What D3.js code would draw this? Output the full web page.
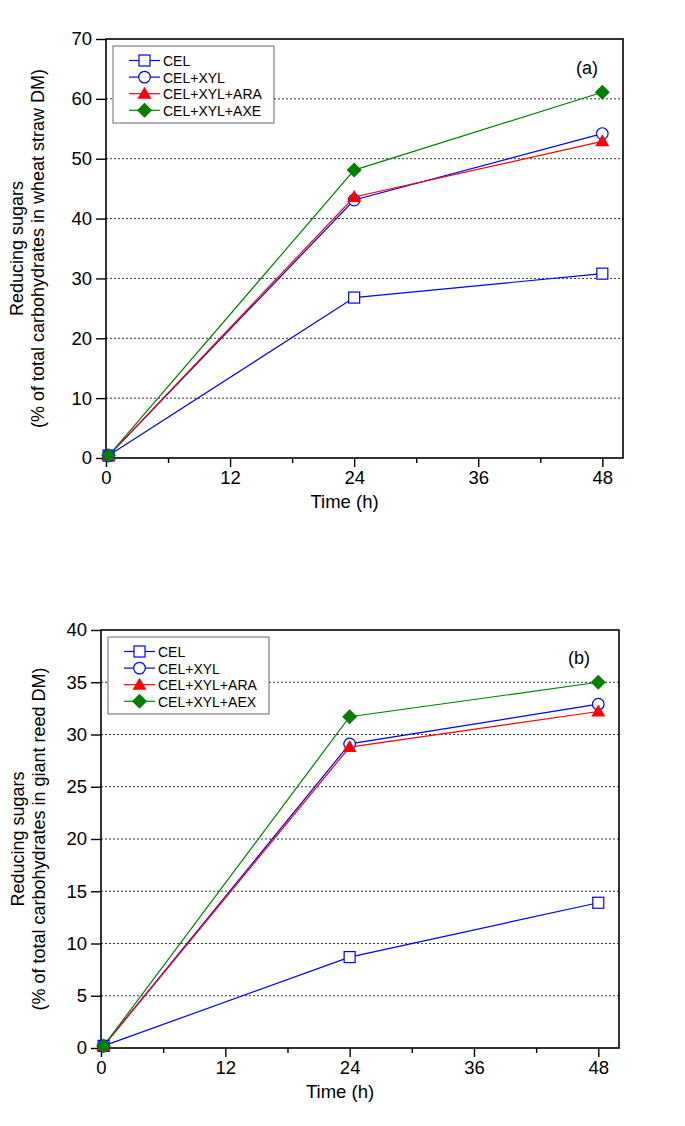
<!DOCTYPE html>
<html>
<head>
<meta charset="utf-8">
<script src="https://cdn.jsdelivr.net/npm/d3@7"></script>
<style>
  body { margin: 0; background: #fff; }
  svg text { font-family: "Liberation Sans", Arial, sans-serif; }
</style>
</head>
<body>
<div id="chart"></div>
<script>
// Data
const times = [0.25, 24, 48];
const xTicks = [0, 12, 24, 36, 48];
const xMinorTicks = [6, 18, 30, 42];

const seriesA = ["CEL", "CEL+XYL", "CEL+XYL+ARA", "CEL+XYL+AXE"];
const seriesB = ["CEL", "CEL+XYL", "CEL+XYL+ARA", "CEL+XYL+AEX"];

// (a) wheat straw
const wheatCEL = [0.4, 26.8, 30.8];
const wheatXYL = [0.4, 43.1, 54.2];
const wheatARA = [0.4, 43.6, 52.9];
const wheatAXE = [0.4, 48.1, 61.1];
const yTicksA = [0, 10, 20, 30, 40, 50, 60, 70];

// (b) giant reed
const reedCEL = [0.2, 8.7, 13.9];
const reedXYL = [0.2, 29.1, 32.9];
const reedARA = [0.2, 28.8, 32.2];
const reedAEX = [0.2, 31.7, 35.0];
const yTicksB = [0, 5, 10, 15, 20, 25, 30, 35, 40];

// marker styles per series
const styles = [
  { color: "#0000ff", shape: "square" },
  { color: "#0000ff", shape: "circle" },
  { color: "#ff0000", shape: "triangle" },
  { color: "#008000", shape: "diamond" }
];

const W = 685, H = 1126;
const svg = d3.select("#chart").append("svg")
  .attr("width", W).attr("height", H);

function drawMarker(g, shape, color) {
  if (shape === "square") {
    g.append("rect").attr("x", -5.5).attr("y", -5.5).attr("width", 11).attr("height", 11)
      .attr("fill", "#fff").attr("stroke", color).attr("stroke-width", 1.2);
  } else if (shape === "circle") {
    g.append("circle").attr("r", 5.8)
      .attr("fill", "#fff").attr("stroke", color).attr("stroke-width", 1.2);
  } else if (shape === "triangle") {
    g.append("path").attr("d", "M0,-7L7,5L-7,5Z").attr("fill", color);
  } else {
    g.append("path").attr("d", "M0,-7.5L7.5,0L0,7.5L-7.5,0Z").attr("fill", color);
  }
}

function drawPanel(p) {
  const x = d3.scaleLinear().domain([0, 50]).range([p.left, p.right]);
  const y = d3.scaleLinear().domain([0, p.yMax]).range([p.bottom, p.top]);
  const g = svg.append("g");

  // dotted grid lines
  g.selectAll(".grid").data(p.yTicks.filter(v => v > 0 && v < p.yMax)).enter()
    .append("line")
    .attr("x1", p.left).attr("x2", p.right)
    .attr("y1", d => y(d)).attr("y2", d => y(d))
    .attr("stroke", "#333").attr("stroke-width", 1)
    .attr("stroke-dasharray", "2,2");

  // axes
  const yAxis = g.append("g").attr("transform", `translate(${p.left},0)`)
    .call(d3.axisLeft(y).tickValues(p.yTicks).tickSize(10).tickPadding(4));
  const xAxis = g.append("g").attr("transform", `translate(0,${p.bottom})`)
    .call(d3.axisBottom(x).tickValues(xTicks).tickSize(9).tickPadding(4));
  g.append("g").attr("transform", `translate(0,${p.bottom})`)
    .call(d3.axisBottom(x).tickValues(xMinorTicks).tickSize(5).tickFormat(""))
    .select(".domain").remove();
  [yAxis, xAxis].forEach(a => {
    a.select(".domain").remove();
    a.selectAll("text").attr("font-size", 18.5).attr("fill", "#000")
      .style("font-family", "Liberation Sans, Arial, sans-serif");
  });
  g.selectAll("g.tick line").attr("stroke", "#000").attr("stroke-width", 1.4);

  // frame
  g.append("rect")
    .attr("x", p.left).attr("y", p.top)
    .attr("width", p.right - p.left).attr("height", p.bottom - p.top)
    .attr("fill", "none").attr("stroke", "#000").attr("stroke-width", 1.6);

  // legend box
  const lg = g.append("g").attr("transform", `translate(${p.legend[0]},${p.legend[1]})`);
  lg.append("rect").attr("width", 161).attr("height", 77)
    .attr("fill", "#fff").attr("stroke", "#666").attr("stroke-width", 1);
  p.names.forEach((name, i) => {
    const row = lg.append("g").attr("transform", `translate(0,${14.5 + i * 16.6})`);
    row.append("line").attr("x1", 16).attr("x2", 47)
      .attr("stroke", styles[i].color).attr("stroke-width", 1.2);
    drawMarker(row.append("g").attr("transform", "translate(31.5,0)"), styles[i].shape, styles[i].color);
    row.append("text").attr("x", 50).attr("y", 5.5)
      .attr("font-size", 14).text(name);
  });

  // series lines and markers
  const line = d3.line().x((d, i) => x(times[i])).y(d => y(d));
  p.series.forEach((vals, i) => {
    g.append("path").attr("d", line(vals))
      .attr("fill", "none").attr("stroke", styles[i].color).attr("stroke-width", 1.2);
  });
  p.series.forEach((vals, i) => {
    vals.forEach((v, j) => {
      drawMarker(g.append("g").attr("transform", `translate(${x(times[j])},${y(v)})`),
        styles[i].shape, styles[i].color);
    });
  });

  // panel letter
  g.append("text").attr("x", p.letter[0]).attr("y", p.letter[1])
    .attr("text-anchor", "middle").attr("font-size", 18).text(p.letterText);

  // axis titles
  g.append("text").attr("x", (p.left + p.right) / 2 - 20).attr("y", p.bottom + 50)
    .attr("text-anchor", "middle").attr("font-size", 18.5).text("Time (h)");
  const cy = (p.top + p.bottom) / 2;
  g.append("text").attr("transform", `translate(${p.titleX},${cy}) rotate(-90)`)
    .attr("text-anchor", "middle").attr("font-size", 18).text("Reducing sugars");
  g.append("text").attr("transform", `translate(${p.titleX + 21},${cy}) rotate(-90)`)
    .attr("text-anchor", "middle").attr("font-size", 18).text(p.ytitle2);
}

drawPanel({
  top: 39, bottom: 458, left: 106, right: 623, yMax: 70, yTicks: yTicksA,
  names: seriesA, series: [wheatCEL, wheatXYL, wheatARA, wheatAXE],
  legend: [113, 46], letter: [587, 74], letterText: "(a)",
  titleX: 23, ytitle2: "(% of total carbohydrates in wheat straw DM)"
});
drawPanel({
  top: 630, bottom: 1048, left: 101, right: 619, yMax: 40, yTicks: yTicksB,
  names: seriesB, series: [reedCEL, reedXYL, reedARA, reedAEX],
  legend: [108, 637], letter: [579, 664], letterText: "(b)",
  titleX: 24, ytitle2: "(% of total carbohydrates in giant reed DM)"
});
</script>
</body>
</html>
